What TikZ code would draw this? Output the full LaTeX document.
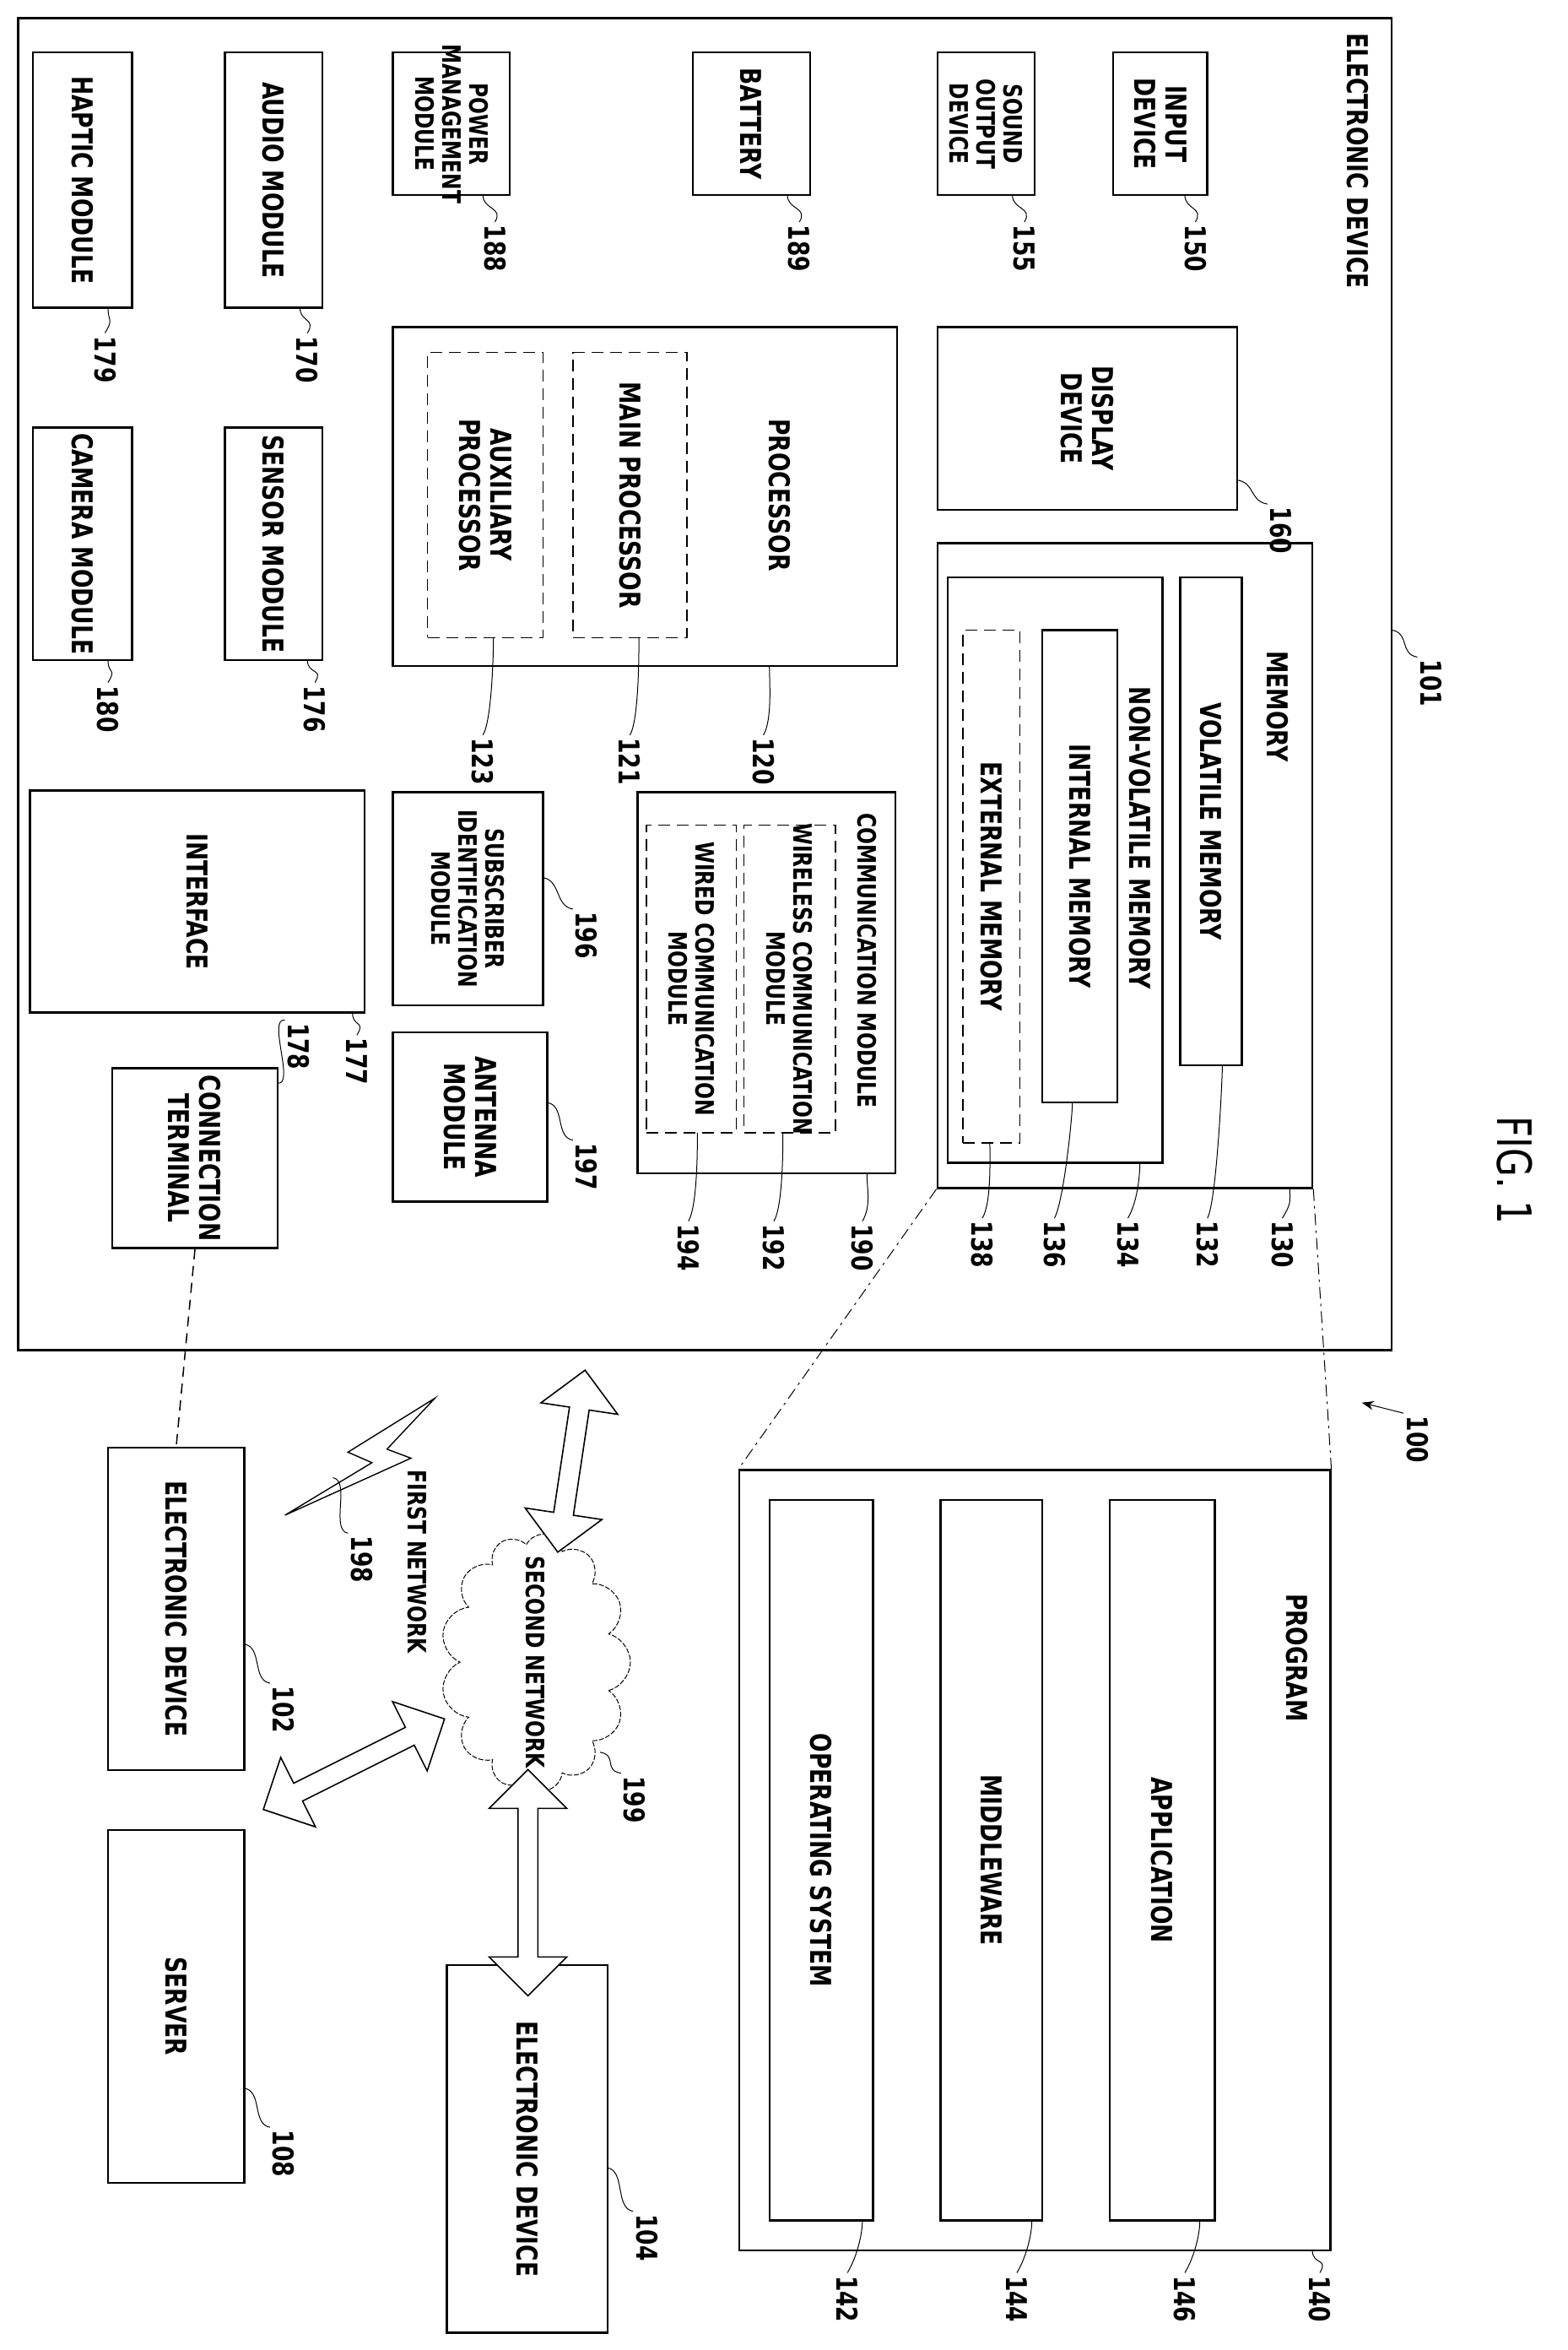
\documentclass[tikz,border=0pt]{standalone}
\usepackage{fontspec}
\setmainfont{DejaVu Sans}[FakeStretch=0.78]
\usetikzlibrary{fit,shapes.symbols,shapes.arrows,arrows.meta}
\begin{document}
\begin{tikzpicture}[x=1.777pt,y=-1.777pt,
	box/.style={draw=black,line width=2.4pt,inner sep=0pt},
	dbox/.style={box,line width=1.6pt,dash pattern=on 14pt off 8pt},
	txt/.style={rotate=-90,align=center,font=\fontsize{34}{37}\selectfont\bfseries},
	stxt/.style={txt,font=\fontsize{30}{32}\selectfont\bfseries},
	num/.style={rotate=-90,anchor=west,font=\fontsize{34}{37}\selectfont\bfseries},
	snum/.style={num,anchor=south west},
	ldr/.style={line width=1pt},
	darr/.style={double arrow,draw=black,fill=white,line width=1.6pt,
		minimum width=92pt,double arrow head extend=12pt,sloped,midway}]

\useasboundingbox (0,0) rectangle (1045,1566.5);

% electronic device 101
\node[box,fit={(12,12) (928,900)}] (ed) {};
\node[num] at (905,20) {ELECTRONIC DEVICE};
\newcommand\blk[6][box]{%
	\node[#1,fit={(#3) (#4)}] (#2) {};
	\node[#6] at (#2) {#5};}

\blk{hap}{22,35}{88,205}{HAPTIC MODULE}{txt}
\blk{aud}{150,35}{215,205}{AUDIO MODULE}{txt}
\blk{pwr}{262,35}{340,130}{POWER\\MANAGEMENT\\MODULE}{stxt}
\blk{bat}{462,35}{540,130}{BATTERY}{txt}
\blk{snd}{625,35}{690,130}{SOUND\\OUTPUT\\DEVICE}{stxt}
\blk{inp}{742,35}{805,130}{INPUT\\DEVICE}{txt}
\blk{cam}{22,285}{88,440}{CAMERA MODULE}{txt}
\blk{sen}{150,285}{215,440}{SENSOR MODULE}{txt}
\node[box,fit={(262,218) (598,444)}] (proc) {};
\node[txt] at (520,330) {PROCESSOR};
\blk[dbox]{aux}{285,235}{362,425}{AUXILIARY\\PROCESSOR}{txt}
\blk[dbox]{mainp}{382,235}{458,425}{MAIN PROCESSOR}{txt}
\blk{disp}{625,218}{825,340}{DISPLAY\\DEVICE}{txt}
\node[box,fit={(625,362) (875,792)}] (mem) {};
\node[txt,anchor=west] at (852,432) {MEMORY};
\node[box,fit={(632,385) (775,775)}] (nvm) {};
\node[txt,anchor=west] at (760,456) {NON-VOLATILE MEMORY};
\blk{vol}{787,385}{828,710}{VOLATILE MEMORY}{txt}
\blk{int}{695,420}{745,735}{INTERNAL MEMORY}{txt}
\blk[dbox]{ext}{642,420}{680,762}{EXTERNAL MEMORY}{txt}
\blk{ifc}{20,527}{243,675}{INTERFACE}{txt}
\blk{sim}{262,528}{362,670}{SUBSCRIBER\\IDENTIFICATION\\MODULE}{stxt}
\blk{ant}{262,688}{365,801}{ANTENNA\\MODULE}{txt}
\node[box,fit={(425,528) (597,782)}] (com) {};
\node[stxt,anchor=west] at (578,540) {COMMUNICATION MODULE};
\blk[dbox]{wls}{496,550}{557,755}{WIRELESS COMMUNICATION\\MODULE}{stxt}
\blk[dbox]{wrd}{431,550}{491,755}{WIRED COMMUNICATION\\MODULE}{stxt}
\blk{term}{75,712}{185,832}{CONNECTION\\TERMINAL}{txt}

% outside
\blk{edb}{72,965}{163,1180}{ELECTRONIC DEVICE}{txt}
\blk{srv}{72,1220}{163,1455}{SERVER}{txt}
\blk{edc}{298,1310}{405,1555}{ELECTRONIC DEVICE}{txt}
\node[box,fit={(493,980) (887,1500)}] (prog) {};
\node[txt] at (865,1105) {PROGRAM};
\blk{os}{513,1000}{582,1480}{OPERATING SYSTEM}{txt}
\blk{mw}{627,1000}{695,1480}{MIDDLEWARE}{txt}
\blk{app}{740,1000}{810,1480}{APPLICATION}{txt}
\node[cloud,cloud puffs=13,draw,line width=1pt,dash pattern=on 6pt off 2pt,
	rotate=-90,minimum width=305pt,minimum height=225pt,aspect=1.4] (net) at (357,1108) {};
\node[stxt] at (net) {SECOND NETWORK};
\draw[line width=1.4pt,fill=white] (190,1010) -- (248,975) -- (232,968) -- (290,932)
	-- (258,966) -- (274,972) -- cycle;
\node[stxt,anchor=west] at (278,978) {FIRST NETWORK};

% connectors
\draw[line width=1.5pt,dash pattern=on 12pt off 8pt] (term.south) -- (edb.north);
\draw[line width=1pt,dash pattern=on 14pt off 6pt on 3pt off 6pt]
	(mem.south west) -- (prog.north west) (mem.south east) -- (prog.north east);
\path (390,914) -- (372,1034) node[darr,minimum height=218pt] {};
\path (176,1206) -- (296,1146) node[darr,minimum height=240pt] {};
\path (352,1180) -- (352,1330) node[darr,minimum height=268pt] {};

% reference numerals
\foreach \s/\l/\t in {{72,205}/{70,222}/179,{200,205}/{205,222}/170,
		{322,130}/{330,148}/188,{525,130}/{533,148}/189,{675,130}/{683,148}/155,
		{790,130}/{797,148}/150,{72,440}/{72,455}/180,{205,440}/{210,455}/176,
		{329,425}/{322,490}/123,{426,425}/{420,490}/121,{513,444}/{509,490}/120,
		{860,792}/{855,812}/130,{815,710}/{805,812}/132,{760,775}/{752,812}/134,
		{715,735}/{703,812}/136,{660,762}/{655,812}/138,{235,675}/{238,690}/177,
		{578,782}/{575,814}/190,{522,755}/{516,814}/192,{465,755}/{459,814}/194,
		{575,1480}/{565,1515}/142,{688,1480}/{678,1515}/144,{800,1480}/{790,1515}/146,
		{875,1500}/{880,1515}/140}{
	\node[num] (n\t) at (\l) {\t};
	\draw[ldr] (\s) .. controls +(0,10) and +(6,-10) .. (n\t.west);}
\foreach \s/\l/\t in {{825,320}/{845,336}/160,{928,420}/{945,438}/101,
		{362,585}/{382,606}/196,{365,735}/{382,760}/197,{185,722}/{190,680}/178,
		{163,1096}/{180,1122}/102,{163,1392}/{180,1418}/108,{405,1445}/{422,1474}/104,
		{400,1168}/{414,1182}/199,{222,985}/{232,1022}/198}{
	\node[snum] (n\t) at (\l) {\t};
	\draw[ldr] (\s) .. controls +(12,2) and +(-12,-2) .. (n\t.south west);}

\node[num] (n100) at (945,942) {100};
\draw[line width=1pt,-{Stealth[length=14pt]}] (n100.south west) -- (908,935);
\node[rotate=-90,font=\fontsize{56}{60}\selectfont] (fig) at (1010,780) {FIG. 1};
\end{tikzpicture}
\end{document}
